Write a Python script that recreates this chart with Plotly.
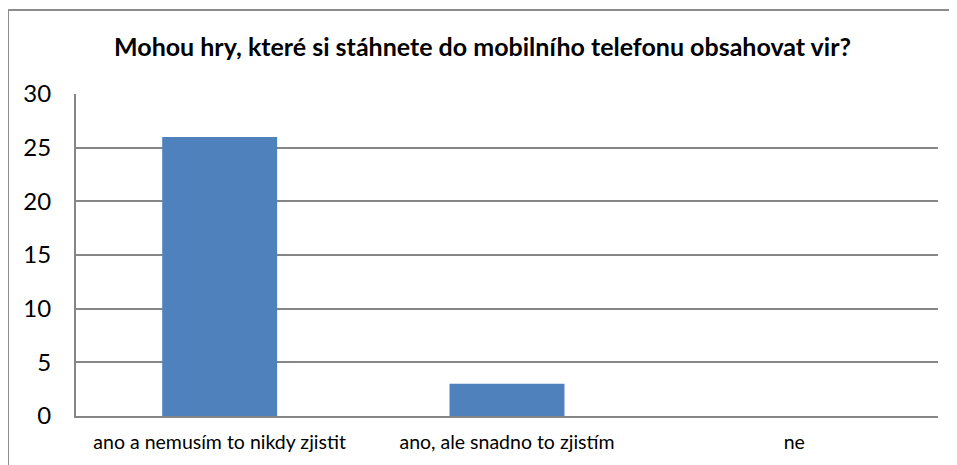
import plotly.graph_objects as go

categories = ["ano a nemusím to nikdy zjistit", "ano, ale snadno to zjistím", "ne"]
values = [26, 3, 0]
y_ticks = [0, 5, 10, 15, 20, 25, 30]
title = "Mohou hry, které si stáhnete do mobilního telefonu obsahovat vir?"

OFF = 8  # page body offset
W, H = 957 - OFF, 465 - OFF
# target plot area in window pixels: x 76..938, y 94..416
L, T = 76 - OFF, 94 - OFF
R = W - (938 - OFF)
B = H - (416 - OFF)
pw, ph = W - L - R, H - T - B

def px(x):
    return (x - OFF - L) / pw

def py(y):
    return (H - B - (y - OFF)) / ph

font_fam = "Lato, Carlito, Calibri, sans-serif"

fig = go.Figure(go.Bar(
    x=categories, y=values, marker_color="#4F81BD", width=0.4,
    marker_line_width=0,
))

fig.update_layout(
    width=W, height=H,
    margin=dict(l=L, r=R, t=T, b=B),
    paper_bgcolor="white", plot_bgcolor="white",
    showlegend=False,
    title=dict(text="<b>" + title + "</b>", x=0.5, xanchor="center",
               y=1 - (47 - OFF) / H, yanchor="middle",
               font=dict(family=font_fam, size=25, color="black")),
    xaxis=dict(showgrid=False, showline=True, linecolor="#868686", linewidth=2,
               ticks="", tickfont=dict(family=font_fam, size=19.5, color="black"),
               ticklabelstandoff=8),
    yaxis=dict(range=[0, 30], tickvals=y_ticks, showgrid=True, gridcolor="#868686",
               gridwidth=1.5, showline=True, linecolor="#868686", linewidth=2,
               ticks="", zeroline=False,
               tickfont=dict(family=font_fam, size=24, color="black"),
               ticklabelstandoff=18),
    shapes=[dict(type="rect", xref="paper", yref="paper",
                 x0=px(8), x1=px(957 + 20), y0=py(465 + 20), y1=py(10),
                 line=dict(color="#8c8c8c", width=2), fillcolor="rgba(0,0,0,0)",
                 layer="below")],
)

fig.write_html("out.html")
